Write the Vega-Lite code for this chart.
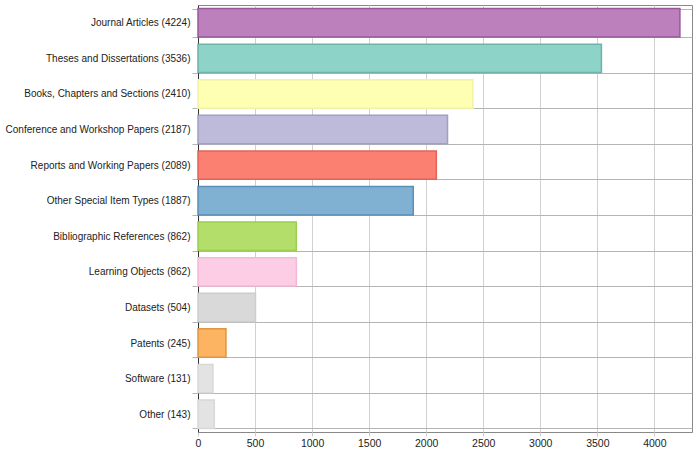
{
  "$schema": "https://vega.github.io/schema/vega-lite/v6.json",
  "width": 494,
  "height": 427,
  "autosize": {"type": "none"},
  "padding": {"left": 198, "top": 5, "right": 7, "bottom": 19},
  "background": "white",
  "config": {
    "view": {"stroke": "#888888", "strokeWidth": 1},
    "font": "Liberation Sans, Arial"
  },
  "data": {
    "values": [
      {"label": "Journal Articles (4224)", "type": "Journal Articles", "count": 4224},
      {"label": "Theses and Dissertations (3536)", "type": "Theses and Dissertations", "count": 3536},
      {"label": "Books, Chapters and Sections (2410)", "type": "Books, Chapters and Sections", "count": 2410},
      {"label": "Conference and Workshop Papers (2187)", "type": "Conference and Workshop Papers", "count": 2187},
      {"label": "Reports and Working Papers (2089)", "type": "Reports and Working Papers", "count": 2089},
      {"label": "Other Special Item Types (1887)", "type": "Other Special Item Types", "count": 1887},
      {"label": "Bibliographic References (862)", "type": "Bibliographic References", "count": 862},
      {"label": "Learning Objects (862)", "type": "Learning Objects", "count": 862},
      {"label": "Datasets (504)", "type": "Datasets", "count": 504},
      {"label": "Patents (245)", "type": "Patents", "count": 245},
      {"label": "Software (131)", "type": "Software", "count": 131},
      {"label": "Other (143)", "type": "Other", "count": 143}
    ]
  },
  "mark": {"type": "bar", "strokeWidth": 1.5},
  "encoding": {
    "y": {
      "field": "label",
      "type": "nominal",
      "sort": null,
      "title": null,
      "scale": {"paddingInner": 0.2, "paddingOuter": 0.1},
      "axis": {
        "grid": true,
        "tickBand": "extent",
        "gridColor": "#b5b5b5",
        "tickColor": "#b5b5b5",
        "tickSize": 6,
        "domainColor": "#333333",
        "labelFontSize": 10,
        "labelColor": "#222222",
        "labelPadding": 2,
        "labelLimit": 300
      }
    },
    "x": {
      "field": "count",
      "type": "quantitative",
      "title": null,
      "scale": {"domain": [0, 4330], "nice": false},
      "axis": {
        "values": [0, 500, 1000, 1500, 2000, 2500, 3000, 3500, 4000],
        "format": "d",
        "grid": true,
        "gridColor": "#d0d0d0",
        "tickColor": "#cccccc",
        "tickSize": 4,
        "domain": false,
        "labelFontSize": 10.5,
        "labelColor": "#222222",
        "labelPadding": 2,
        "labelFlush": false
      }
    },
    "fill": {
      "field": "type",
      "type": "nominal",
      "legend": null,
      "scale": {
        "domain": ["Journal Articles", "Theses and Dissertations", "Books, Chapters and Sections", "Conference and Workshop Papers", "Reports and Working Papers", "Other Special Item Types", "Bibliographic References", "Learning Objects", "Datasets", "Patents", "Software", "Other"],
        "range": ["#bc80bd", "#8dd3c7", "#ffffb3", "#bebada", "#fb8072", "#80b1d3", "#b3de69", "#fccde5", "#d9d9d9", "#fdb462", "#e3e3e3", "#e3e3e3"]
      }
    },
    "stroke": {
      "field": "type",
      "type": "nominal",
      "legend": null,
      "scale": {
        "domain": ["Journal Articles", "Theses and Dissertations", "Books, Chapters and Sections", "Conference and Workshop Papers", "Reports and Working Papers", "Other Special Item Types", "Bibliographic References", "Learning Objects", "Datasets", "Patents", "Software", "Other"],
        "range": ["#97599a", "#6db3a7", "#f2f2a6", "#a29ec4", "#df6457", "#5a8fb8", "#9ccc52", "#f3b9d4", "#cdcdcd", "#e0943f", "#d8d8d8", "#d8d8d8"]
      }
    }
  }
}
